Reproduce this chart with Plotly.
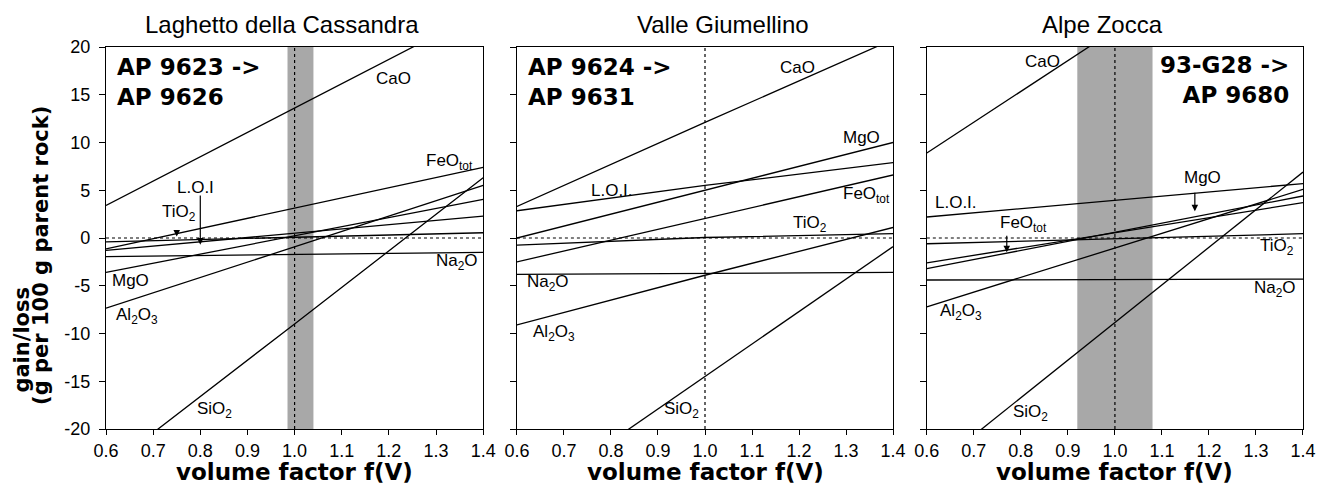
import plotly.graph_objects as go

# ---------------- data ----------------
fv = [0.6, 1.0, 1.4]  # volume factor f(V) at which each line is read

cassandra = {
    "CaO":   [3.4, 13.6, 23.8],
    "FeO":   [-1.15, 3.1, 7.4],
    "LOI":   [-1.3, 0.5, 2.3],
    "TiO2":  [-0.4, 0.1, 0.55],
    "Na2O":  [-1.95, -1.7, -1.5],
    "MgO":   [-3.6, 0.2, 4.05],
    "Al2O3": [-7.35, -0.9, 5.5],
    "SiO2":  [-24.2, -9.0, 6.3],
}
giumellino = {
    "CaO":   [3.3, 12.1, 20.8],
    "LOI":   [2.85, 5.5, 7.9],
    "MgO":   [0.0, 5.0, 10.0],
    "FeO":   [-2.5, 2.05, 6.6],
    "TiO2":  [-0.75, 0.05, 0.45],
    "Na2O":  [-3.8, -3.7, -3.6],
    "Al2O3": [-9.1, -3.9, 1.1],
    "SiO2":  [-28.1, -14.5, -0.9],
}
zocca = {
    "CaO":   [8.9, 21.8, 34.7],
    "LOI":   [2.2, 3.95, 5.7],
    "MgO":   [-3.2, 0.6, 4.4],
    "FeO":   [-2.6, 0.55, 3.7],
    "Al2O3": [-7.2, -1.05, 5.1],
    "TiO2":  [-0.6, -0.05, 0.45],
    "Na2O":  [-4.4, -4.35, -4.3],
    "SiO2":  [-24.6, -8.8, 6.9],
}

panel_titles = ["Laghetto della Cassandra", "Valle Giumellino", "Alpe Zocca"]
sample_texts = ["AP 9623 -><br>AP 9626", "AP 9624 -><br>AP 9631", "93-G28 -><br>AP 9680"]
bands = [(0.985, 1.04), None, (0.92, 1.08)]

xtick_vals = [0.6, 0.7, 0.8, 0.9, 1.0, 1.1, 1.2, 1.3, 1.4]
xtick_text = ["0.6", "0.7", "0.8", "0.9", "1.0", "1.1", "1.2", "1.3", "1.4"]
ytick_vals = [-20, -15, -10, -5, 0, 5, 10, 15, 20]
ytick_text = ["-20", "-15", "-10", "-5", "0", "5", "10", "15", "20"]

# label placements (text, x, y) per panel
labels = [
    [("CaO", 1.21, 16.7), ("FeO<sub>tot</sub>", 1.328, 7.95), ("L.O.I", 0.789, 5.3),
     ("TiO<sub>2</sub>", 0.754, 2.6), ("MgO", 0.653, -4.4), ("Al<sub>2</sub>O<sub>3</sub>", 0.665, -8.15),
     ("Na<sub>2</sub>O", 1.345, -2.5), ("SiO<sub>2</sub>", 0.83, -18.0)],
    [("CaO", 1.196, 17.9), ("MgO", 1.332, 10.5), ("L.O.I.", 0.803, 5.0),
     ("FeO<sub>tot</sub>", 1.343, 4.5), ("TiO<sub>2</sub>", 1.223, 1.46), ("Na<sub>2</sub>O", 0.667, -4.74),
     ("Al<sub>2</sub>O<sub>3</sub>", 0.678, -9.97), ("SiO<sub>2</sub>", 0.951, -18.0)],
    [("CaO", 0.845, 18.5), ("MgO", 1.186, 6.3), ("L.O.I.", 0.662, 3.7),
     ("FeO<sub>tot</sub>", 0.806, 1.43), ("TiO<sub>2</sub>", 1.345, -0.94), ("Na<sub>2</sub>O", 1.34, -5.37),
     ("Al<sub>2</sub>O<sub>3</sub>", 0.673, -7.8), ("SiO<sub>2</sub>", 0.82, -18.3)],
]
# arrows (x, tail y, head y) per panel
arrows = [[(0.75, 1.0, 0.15), (0.8, 4.6, -0.7)], [], [(0.77, 0.4, -1.5), (1.17, 4.9, 2.8)]]

panels = [cassandra, giumellino, zocca]

# ---------------- figure ----------------
# page has an 8px body margin, so the figure is 16px smaller than the window
FW, FH = 1320, 477
L, T = 98, 39
W, H = 1206, 382
R, B = FW - L - W, FH - T - H
px_dom = [(0, 380), (414, 793), (827, 1206)]

fig = go.Figure()
layout = dict(
    width=FW, height=FH,
    margin=dict(l=L, r=R, t=T, b=B, pad=0),
    paper_bgcolor="white", plot_bgcolor="white",
    showlegend=False,
    font=dict(family="Liberation Sans, Arial, sans-serif", color="black"),
)
annotations = []
shapes = []
tickfont = dict(family="Liberation Sans, Arial, sans-serif", size=18, color="black")
labfont = dict(family="Liberation Sans, Arial, sans-serif", size=17, color="black")
boldfont = dict(family="DejaVu Sans, sans-serif", size=23, color="black")
ytitlefont = dict(family="DejaVu Sans, sans-serif", size=21, color="black")

for i, data in enumerate(panels):
    s = "" if i == 0 else str(i + 1)
    xa, ya = "x" + s, "y" + s
    for ox, vals in data.items():
        fig.add_trace(go.Scatter(x=fv, y=vals, mode="lines", xaxis=xa, yaxis=ya,
                                 line=dict(color="black", width=1.3),
                                 hoverinfo="skip", showlegend=False))
    d0, d1 = px_dom[i]
    layout["xaxis" + s] = dict(
        domain=[d0 / W, d1 / W], range=[0.6, 1.4], anchor=ya,
        tickvals=xtick_vals, ticktext=xtick_text, ticks="outside", ticklen=5,
        tickwidth=1.2, tickcolor="black", showline=True, linecolor="black",
        linewidth=1.3, mirror=True, showgrid=False, zeroline=False, tickfont=tickfont,
    )
    layout["yaxis" + s] = dict(
        domain=[0, 1], range=[-20, 20], anchor=xa,
        tickvals=ytick_vals, ticktext=ytick_text, ticks="outside", ticklen=6,
        tickwidth=1.2, tickcolor="black", showline=True, linecolor="black",
        linewidth=1.3, mirror=True, showgrid=False, zeroline=False,
        showticklabels=(i == 0), tickfont=tickfont, ticklabelstandoff=5,
    )
    if bands[i] is not None:
        shapes.append(dict(type="rect", xref=xa, yref=ya + " domain", x0=bands[i][0], x1=bands[i][1],
                           y0=0, y1=1, fillcolor="#a8a8a8", line=dict(width=0), layer="below"))
    shapes.append(dict(type="line", xref=xa + " domain", yref=ya, x0=0, x1=1, y0=0, y1=0,
                       line=dict(color="black", width=1.2, dash="dot")))
    shapes.append(dict(type="line", xref=xa, yref=ya + " domain", x0=1.0, x1=1.0, y0=0, y1=1,
                       line=dict(color="black", width=1.2, dash="dot")))
    tx = [0.973, 1.038, 0.974][i]
    annotations.append(dict(text=panel_titles[i], xref=xa, yref="paper", x=tx, y=1.06,
                            xanchor="center", yanchor="middle", showarrow=False,
                            font=dict(family="Liberation Sans, Arial, sans-serif", size=24, color="black")))
    annotations.append(dict(text="<b>volume factor f(V)</b>", xref=xa, yref="paper", x=1.0, y=-0.1126,
                            xanchor="center", yanchor="middle", showarrow=False, font=boldfont))
    if i < 2:
        annotations.append(dict(text="<b>" + sample_texts[i] + "</b>", xref=xa, yref=ya, x=0.619, y=16.3,
                                xanchor="left", yanchor="middle", align="left", showarrow=False,
                                font=boldfont))
    else:
        annotations.append(dict(text="<b>" + sample_texts[i] + "</b>", xref=xa, yref=ya, x=1.375, y=16.5,
                                xanchor="right", yanchor="middle", align="right", showarrow=False,
                                font=boldfont))
    for txt, lx, ly in labels[i]:
        annotations.append(dict(text=txt, xref=xa, yref=ya, x=lx, y=ly, showarrow=False,
                                xanchor="center", yanchor="middle", font=labfont))
    for axx, tail, head in arrows[i]:
        annotations.append(dict(text="", xref=xa, yref=ya, x=axx, y=head, axref=xa, ayref=ya,
                                ax=axx, ay=tail, showarrow=True, arrowhead=2, arrowsize=1.1,
                                arrowwidth=1.2, arrowcolor="black"))

annotations.append(dict(text="<b>gain/loss</b>", xref="paper", yref="paper", x=-0.0705, y=0.233,
                        textangle=-90, showarrow=False, xanchor="center", yanchor="middle",
                        font=ytitlefont))
annotations.append(dict(text="<b>(g per 100 g parent rock)</b>", xref="paper", yref="paper",
                        x=-0.0545, y=0.455, textangle=-90, showarrow=False,
                        xanchor="center", yanchor="middle", font=ytitlefont))

layout["annotations"] = annotations
layout["shapes"] = shapes
fig.update_layout(**layout)
fig.write_html("out.html")
